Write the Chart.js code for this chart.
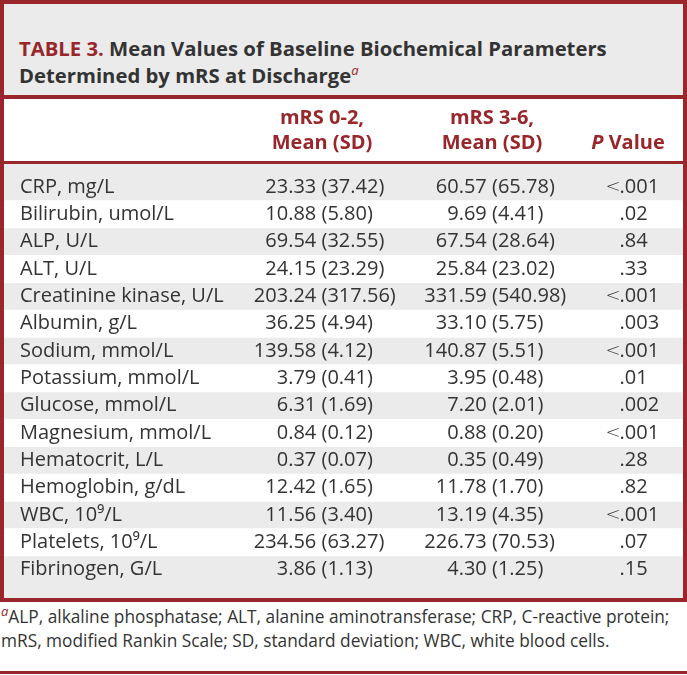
<!DOCTYPE html>
<html>
<head>
<meta charset="utf-8">
<script src="https://cdn.jsdelivr.net/npm/chart.js@4.4.0/dist/chart.umd.min.js"></script>
<style>
  body { margin: 0; background: #fff; font-family: 'Open Sans', sans-serif; color: #333; }
  #frame { position: absolute; left: 0; top: 0; width: 687px; height: 602px; box-sizing: border-box; border: 4px solid #98262b; }
  #title { position: absolute; left: 4px; top: 4px; width: 664px; height: 60px; padding: 31px 0 0 15px; background: #ebebeb;
           font-weight: 700; font-size: 20.3px; line-height: 27px; color: #333; }
  #title .num { color: #98262b; }
  #title sup, #note sup { color: #98262b; font-style: italic; font-weight: 400; font-size: 13px; line-height: 0; }
  #titleRule { position: absolute; left: 4px; top: 95px; width: 679px; height: 4px; background: #98262b; }
  #table { position: absolute; left: 4px; top: 99px; }
  #note { position: absolute; left: 1px; top: 605px; width: 686px; font-size: 17.3px; line-height: 24px; color: #333; white-space: nowrap; }
  #bottomRule { position: absolute; left: 0; top: 671px; width: 687px; height: 3px; background: #98262b; }
</style>
</head>
<body>
<div id="frame"></div>
<div id="title"><span class="num">TABLE 3.</span> Mean Values of Baseline Biochemical Parameters<br>Determined by mRS at Discharge<sup>a</sup></div>
<div id="titleRule"></div>
<canvas id="table" width="679" height="499"></canvas>
<div id="note"><sup>a</sup>ALP, alkaline phosphatase; ALT, alanine aminotransferase; CRP, C-reactive protein;<br>mRS, modified Rankin Scale; SD, standard deviation; WBC, white blood cells.</div>
<div id="bottomRule"></div>
<script>
const parameters = ['CRP, mg/L', 'Bilirubin, umol/L', 'ALP, U/L', 'ALT, U/L', 'Creatinine kinase, U/L',
    'Albumin, g/L', 'Sodium, mmol/L', 'Potassium, mmol/L', 'Glucose, mmol/L', 'Magnesium, mmol/L',
    'Hematocrit, L/L', 'Hemoglobin, g/dL', 'WBC, 10⁹/L', 'Platelets, 10⁹/L', 'Fibrinogen, G/L'];
const meanLow = [23.33, 10.88, 69.54, 24.15, 203.24, 36.25, 139.58, 3.79, 6.31, 0.84, 0.37, 12.42, 11.56, 234.56, 3.86];
const sdLow = [37.42, 5.80, 32.55, 23.29, 317.56, 4.94, 4.12, 0.41, 1.69, 0.12, 0.07, 1.65, 3.40, 63.27, 1.13];
const meanHigh = [60.57, 9.69, 67.54, 25.84, 331.59, 33.10, 140.87, 3.95, 7.20, 0.88, 0.35, 11.78, 13.19, 226.73, 4.30];
const sdHigh = [65.78, 4.41, 28.64, 23.02, 540.98, 5.75, 5.51, 0.48, 2.01, 0.20, 0.49, 1.70, 4.35, 70.53, 1.25];
const pValues = ['<.001', '.02', '.84', '.33', '<.001', '.003', '<.001', '.01', '.002', '<.001', '.28', '.82', '<.001', '.07', '.15'];
const headers = [['mRS 0-2,', 'Mean (SD)'], ['mRS 3-6,', 'Mean (SD)'], ['', 'P Value']];

const RED = '#98262b';
const GRAY = '#ebebeb';
const TEXT = '#333';
const FONT = "'Open Sans', sans-serif";

// column anchors in canvas px (x scale runs 0..canvas width)
const labelX = 16;
const headerCenters = [318, 488, 624];
const splitX = [317.5, 488, 615.5];

function drawSplit(ctx, left, right, x, y) {
    ctx.textAlign = 'right';
    ctx.fillText(left, x, y);
    ctx.textAlign = 'left';
    ctx.fillText(right, x, y);
}

const tablePlugin = {
    id: 'tableText',
    beforeDraw(chart) {
        const ctx = chart.ctx;
        ctx.save();
        ctx.fillStyle = '#fff';
        ctx.fillRect(0, 0, chart.width, 62);
        ctx.fillStyle = RED;
        ctx.fillRect(0, 62, chart.width, 3);
        ctx.fillStyle = GRAY;
        ctx.fillRect(0, 65, chart.width, chart.height - 65);
        ctx.restore();
    },
    afterDatasetsDraw(chart) {
        const ctx = chart.ctx;
        const xs = chart.scales.x, ys = chart.scales.y;
        ctx.save();
        ctx.textBaseline = 'middle';

        // header
        ctx.fillStyle = RED;
        headers.forEach((lines, c) => {
            const cx = xs.getPixelForValue(headerCenters[c]);
            ctx.textAlign = 'center';
            ctx.font = `700 20px ${FONT}`;
            if (lines[0]) ctx.fillText(lines[0], cx, 19);
            if (lines[1].startsWith('P ')) {
                ctx.font = `italic 700 20px ${FONT}`;
                const wP = ctx.measureText('P').width;
                ctx.font = `700 20px ${FONT}`;
                const rest = lines[1].slice(1);
                const wR = ctx.measureText(rest).width;
                const x0 = cx - (wP + wR) / 2;
                ctx.textAlign = 'left';
                ctx.font = `italic 700 20px ${FONT}`;
                ctx.fillText('P', x0, 44);
                ctx.font = `700 20px ${FONT}`;
                ctx.fillText(rest, x0 + wP, 44);
            } else {
                ctx.fillText(lines[1], cx, 44);
            }
        });

        // body
        ctx.fillStyle = TEXT;
        parameters.forEach((name, i) => {
            const py = ys.getPixelForValue(i);
            ctx.font = `400 20px ${FONT}`;
            ctx.textAlign = 'left';
            ctx.fillText(name, xs.getPixelForValue(labelX), py);
            drawSplit(ctx, meanLow[i].toFixed(2) + ' ', '(' + sdLow[i].toFixed(2) + ')', xs.getPixelForValue(splitX[0]), py);
            drawSplit(ctx, meanHigh[i].toFixed(2) + ' ', '(' + sdHigh[i].toFixed(2) + ')', xs.getPixelForValue(splitX[1]), py);
            const p = pValues[i];
            const dot = p.indexOf('.');
            const px = xs.getPixelForValue(splitX[2]);
            ctx.textAlign = 'left';
            ctx.fillText(p.slice(dot), px, py);
            if (dot > 0) {
                // wide, thin less-than sign as in the print
                ctx.font = `300 18px 'DejaVu Sans', sans-serif`;
                ctx.textAlign = 'right';
                ctx.fillText(p.slice(0, dot), px + 1, py);
            }
        });
        ctx.restore();
    }
};

const canvas = document.getElementById('table');
new Chart(canvas, {
    type: 'bar',
    data: {
        labels: parameters,
        datasets: [{
            // white stripes on every second row
            data: parameters.map((p, i) => i % 2 ? [0, canvas.width] : null),
            backgroundColor: '#fff',
            borderWidth: 0,
            barPercentage: 1,
            categoryPercentage: 1
        }]
    },
    options: {
        indexAxis: 'y',
        responsive: false,
        animation: false,
        devicePixelRatio: 1,
        layout: { padding: { top: 74.3, bottom: 14.7, left: 0, right: 0 } },
        plugins: { legend: { display: false }, tooltip: { enabled: false } },
        scales: {
            x: { type: 'linear', min: 0, max: canvas.width, display: false },
            y: { type: 'category', display: false }
        }
    },
    plugins: [tablePlugin]
});
</script>
</body>
</html>
